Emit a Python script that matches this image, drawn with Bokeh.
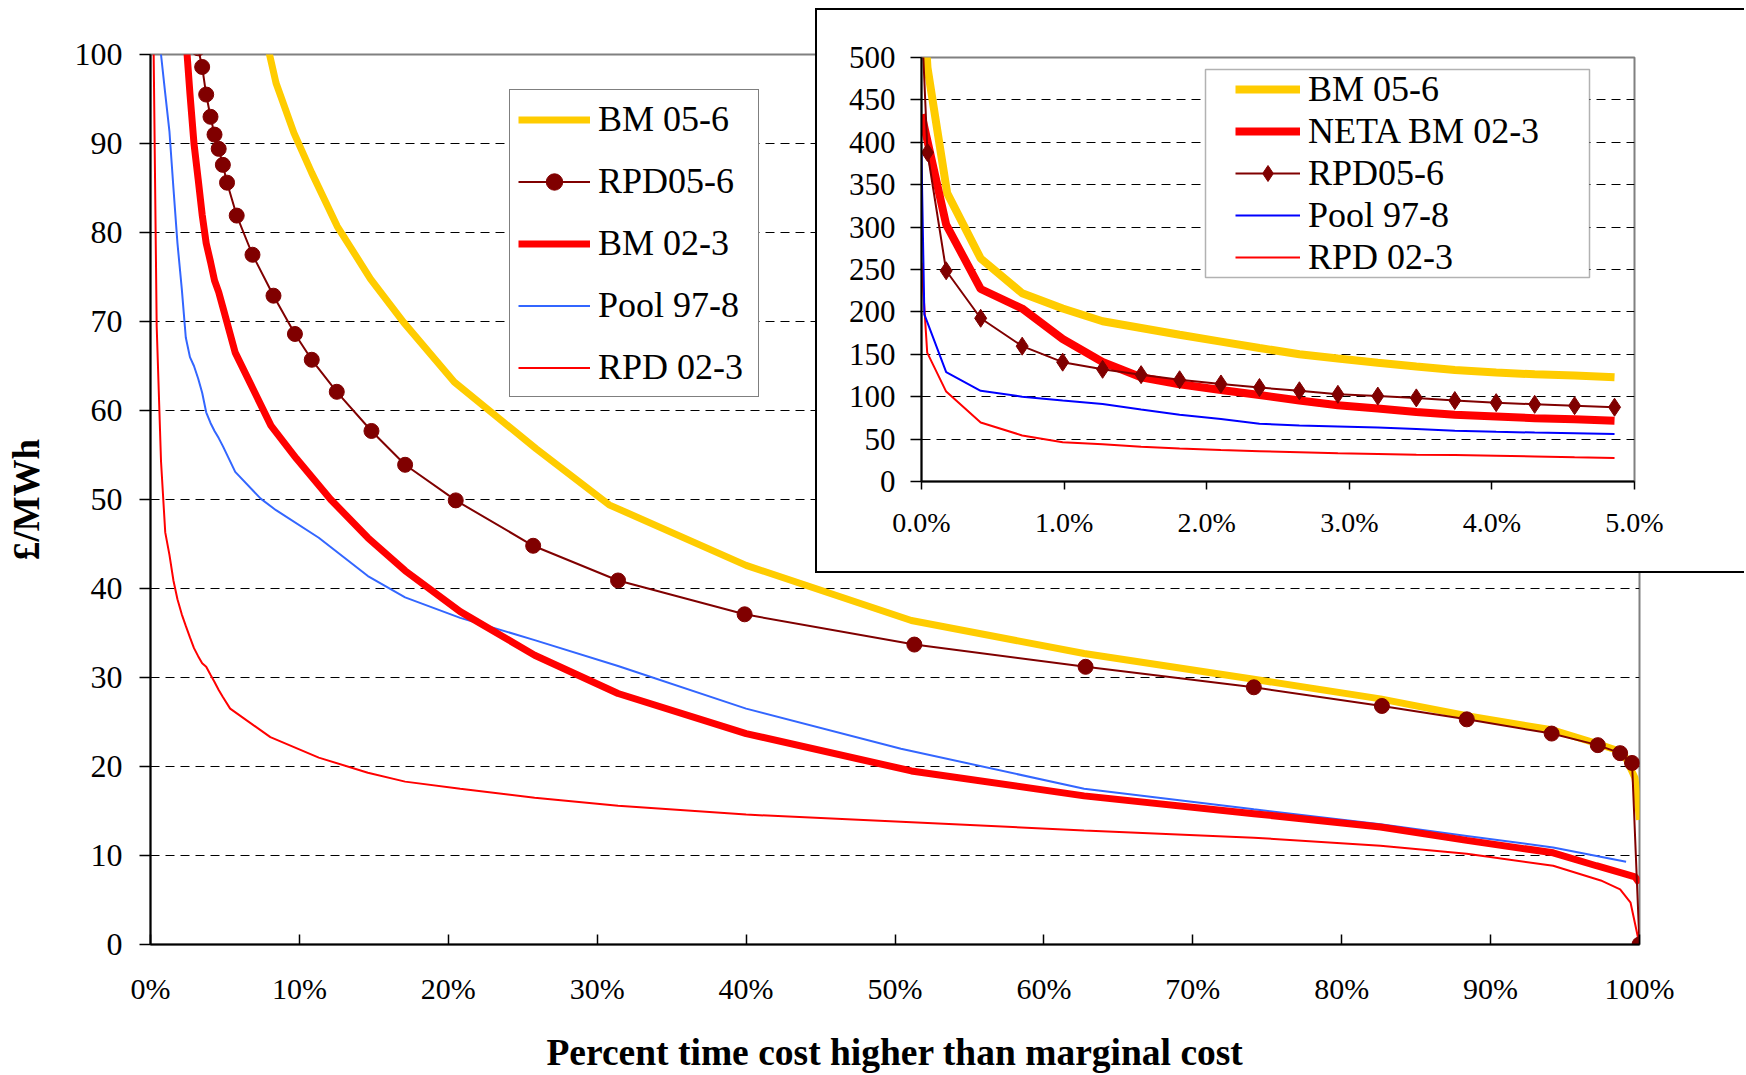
from bokeh.plotting import figure
from bokeh.models import Range1d, FixedTicker, Legend, LegendItem, BoxAnnotation
from bokeh.embed import file_html
from bokeh.resources import INLINE

FONT = "Liberation Serif"

# ---------------- data: percent of time (x) vs £/MWh (y) ----------------
bm56_x = [0.0, 0.042, 0.18, 0.415, 0.706, 0.99, 1.27, 1.54, 1.81, 2.1, 2.37, 2.65, 2.92, 3.2, 3.47,
          3.74, 4.03, 4.30, 4.58, 4.86, 8.43, 9.63, 10.83, 12.54, 14.77, 17.0, 20.4, 25.9, 30.8,
          40.0, 51.1, 62.7, 74.1, 82.6, 88.4, 94.2, 97.1, 98.9, 99.7, 100.0]
bm56_y = [600, 488, 340, 263, 222, 204, 189, 181, 173, 165, 157.5, 150, 145, 140, 135.6,
          131.4, 128.5, 126.4, 125, 123, 96.8, 91.2, 86.7, 80.7, 74.8, 69.9, 63.2, 55.7, 49.4,
          42.6, 36.4, 32.7, 29.8, 27.6, 25.7, 24.1, 22.6, 21.6, 18.7, 14.0]

rpd56_x = [0.0, 0.042, 0.173, 0.415, 0.706, 0.99, 1.27, 1.54, 1.81, 2.10, 2.37, 2.65, 2.92, 3.20,
           3.47, 3.74, 4.03, 4.30, 4.58, 4.86, 5.14, 5.79, 6.85, 8.26, 9.70, 10.83, 12.51, 14.84,
           17.1, 20.5, 25.7, 31.4, 39.9, 51.3, 62.8, 74.1, 82.7, 88.4, 94.1, 97.2, 98.7, 99.5, 100.0]
rpd56_y = [550, 388, 248.5, 192.5, 159.6, 140.7, 132.3, 126, 120, 115, 110.8, 107, 102.8, 100.7,
           98.6, 95.5, 93.0, 91.0, 89.4, 87.6, 85.6, 81.9, 77.5, 72.9, 68.6, 65.7, 62.1, 57.7,
           53.9, 49.9, 44.8, 40.9, 37.1, 33.7, 31.2, 28.9, 26.8, 25.3, 23.7, 22.4, 21.5, 20.4, 0.0]

bm23_x = [0.0, 0.173, 0.415, 0.706, 0.99, 1.27, 1.54, 1.81, 2.10, 2.37, 2.65, 2.92, 3.20, 3.47,
          3.74, 4.03, 4.30, 4.58, 4.86, 5.69, 8.09, 9.8, 12.1, 14.6, 17.1, 20.8, 25.8, 31.4,
          40.0, 51.1, 62.7, 74.1, 82.6, 88.4, 94.2, 97.1, 98.9, 99.7, 100.0]
bm23_y = [433, 303, 227, 204, 168, 141, 123, 114.6, 108, 102, 95.6, 90, 86, 82,
          78.8, 76.7, 74.6, 73.3, 71.6, 66.5, 58.3, 54.6, 50.0, 45.7, 42.0, 37.4, 32.5, 28.2,
          23.7, 19.5, 16.7, 14.7, 13.2, 11.7, 10.3, 8.85, 8.0, 7.6, 6.9]

pool_x = [0.0, 0.02, 0.173, 0.415, 0.706, 0.99, 1.27, 1.54, 1.81, 2.10, 2.37, 2.65, 2.92, 3.20,
          3.47, 3.74, 4.03, 4.30, 4.58, 4.86, 5.69, 7.4, 8.43, 11.3, 14.6, 17.1, 20.8, 25.8,
          31.4, 40.0, 50.4, 62.7, 74.1, 82.6, 88.4, 94.2, 99.1]
pool_y = [385, 197, 129, 107, 100, 95.6, 91.4, 85, 78.8, 73.7, 68.2, 66, 65, 63.6,
          62, 59.8, 58.6, 57.7, 56.9, 56, 53.1, 50.1, 48.8, 45.7, 41.4, 39.0, 36.7, 34.2,
          31.3, 26.5, 22.0, 17.5, 15.2, 13.5, 12.2, 10.9, 9.3]

rpd23_x = [0.0, 0.04, 0.173, 0.415, 0.706, 0.99, 1.27, 1.54, 1.81, 2.10, 2.37, 2.65, 2.92, 3.20,
           3.47, 3.74, 4.03, 4.30, 4.58, 4.86, 5.35, 8.05, 11.3, 14.6, 17.1, 20.8, 25.8, 31.4,
           40.0, 50.4, 62.7, 74.1, 82.6, 88.4, 94.2, 97.4, 98.7, 99.4, 100.0]
rpd23_y = [258, 152, 106, 69.5, 54.3, 46.3, 43.8, 40.9, 38.8, 37.1, 35.8, 34.5, 33.3, 32.4,
           31.6, 31.2, 30.3, 29.5, 28.6, 27.8, 26.5, 23.3, 21.0, 19.3, 18.3, 17.5, 16.5, 15.6,
           14.6, 13.8, 12.8, 12.0, 11.1, 10.2, 8.85, 7.2, 6.2, 4.7, 0.0]

main_labels = ["BM 05-6", "RPD05-6", "BM 02-3", "Pool 97-8", "RPD 02-3"]
inset_labels = ["BM 05-6", "NETA BM 02-3", "RPD05-6", "Pool 97-8", "RPD 02-3"]

x_ticks = [0, 10, 20, 30, 40, 50, 60, 70, 80, 90, 100]
x_tick_labels = ["0%", "10%", "20%", "30%", "40%", "50%", "60%", "70%", "80%", "90%", "100%"]
y_ticks = [0, 10, 20, 30, 40, 50, 60, 70, 80, 90, 100]
inset_x_ticks = [0, 1, 2, 3, 4, 5]
inset_x_tick_labels = ["0.0%", "1.0%", "2.0%", "3.0%", "4.0%", "5.0%"]
inset_y_ticks = [0, 50, 100, 150, 200, 250, 300, 350, 400, 450, 500]

x_title = "Percent time cost higher than marginal cost"
y_title = "£/MWh"

GOLD = "#FFCC00"
DARKRED = "#800000"
RED = "#FF0000"
BLUE_MAIN = "#3366FF"
BLUE_INSET = "#0000FF"


def subset(xs, ys, xmax):
    px, py = [], []
    for a, b in zip(xs, ys):
        if a <= xmax:
            px.append(a)
            py.append(b)
    return px, py


# ---------------- main chart ----------------
p = figure(width=1746, height=1075,
           x_range=Range1d(0, 100), y_range=Range1d(0, 100),
           output_backend="svg", toolbar_location=None,
           min_border_left=150, min_border_right=107, min_border_top=54, min_border_bottom=130,
           background_fill_color="white", border_fill_color="white")
p.outline_line_color = "#808080"
p.outline_line_width = 2

p.xgrid.visible = False
p.ygrid.ticker = FixedTicker(ticks=y_ticks[1:-1])
p.ygrid.grid_line_color = "#000000"
p.ygrid.grid_line_width = 1.2
p.ygrid.grid_line_dash = "9 6"

xa = p.xaxis[0]
xa.ticker = FixedTicker(ticks=x_ticks)
xa.major_label_overrides = {t: l for t, l in zip(x_ticks, x_tick_labels)}
xa.major_tick_in = 10
xa.major_tick_out = 0
xa.minor_tick_line_color = None
xa.axis_line_width = 2
xa.major_tick_line_width = 1.5
xa.major_label_standoff = 27
xa.major_label_text_font = FONT
xa.major_label_text_font_size = "30px"
xa.major_label_text_color = "black"
xa.axis_label = x_title
xa.axis_label_text_font = FONT
xa.axis_label_text_font_style = "bold"
xa.axis_label_text_font_size = "37.5px"
xa.axis_label_text_color = "black"
xa.axis_label_standoff = 24

ya = p.yaxis[0]
ya.ticker = FixedTicker(ticks=y_ticks)
ya.major_tick_in = 0
ya.major_tick_out = 11
ya.minor_tick_line_color = None
ya.axis_line_width = 2
ya.major_tick_line_width = 1.5
ya.major_label_standoff = 17
ya.major_label_text_font = FONT
ya.major_label_text_font_size = "32px"
ya.major_label_text_color = "black"
ya.axis_label = y_title
ya.axis_label_text_font = FONT
ya.axis_label_text_font_style = "bold"
ya.axis_label_text_font_size = "37px"
ya.axis_label_text_color = "black"
ya.axis_label_standoff = 25

r_bm56 = p.line(bm56_x, bm56_y, line_color=GOLD, line_width=7)
r_rpd23 = p.line(rpd23_x, rpd23_y, line_color=RED, line_width=2)
r_pool = p.line(pool_x, pool_y, line_color=BLUE_MAIN, line_width=2)
r_bm23 = p.line(bm23_x, bm23_y, line_color=RED, line_width=7)
r_rpd56 = p.line(rpd56_x, rpd56_y, line_color=DARKRED, line_width=2)
r_rpd56m = p.scatter(rpd56_x, rpd56_y, marker="circle", size=15, fill_color=DARKRED, line_color=DARKRED)

main_legend = Legend(items=[
    LegendItem(label=main_labels[0], renderers=[r_bm56]),
    LegendItem(label=main_labels[1], renderers=[r_rpd56, r_rpd56m]),
    LegendItem(label=main_labels[2], renderers=[r_bm23]),
    LegendItem(label=main_labels[3], renderers=[r_pool]),
    LegendItem(label=main_labels[4], renderers=[r_rpd23]),
], location=(359, 547), padding=8, spacing=20, label_height=41, glyph_height=41, glyph_width=72,
    label_standoff=8, label_width=152, margin=0,
    label_text_font=FONT, label_text_font_size="36px", label_text_color="black",
    border_line_color="black", border_line_width=1.5, background_fill_color="white", background_fill_alpha=1)
p.add_layout(main_legend)

# ---------------- inset chart ----------------
q = figure(frame_width=713, frame_height=424,
           x_range=Range1d(0, 5), y_range=Range1d(0, 500),
           output_backend="svg", toolbar_location=None,
           min_border_left=104, min_border_right=110, min_border_top=47, min_border_bottom=90,
           background_fill_color="white", border_fill_color="white")
q.styles = {"position": "absolute", "left": "815px", "top": "8px",
            "border-top": "2px solid black", "border-left": "2px solid black",
            "border-bottom": "2px solid black", "background-color": "white"}
q.outline_line_color = "#808080"
q.outline_line_width = 2

q.xgrid.visible = False
q.ygrid.ticker = FixedTicker(ticks=inset_y_ticks[1:-1])
q.ygrid.grid_line_color = "#000000"
q.ygrid.grid_line_width = 1.2
q.ygrid.grid_line_dash = "9 6"

qx = q.xaxis[0]
qx.ticker = FixedTicker(ticks=inset_x_ticks)
qx.major_label_overrides = {t: l for t, l in zip(inset_x_ticks, inset_x_tick_labels)}
qx.major_tick_in = 0
qx.major_tick_out = 8
qx.minor_tick_line_color = None
qx.axis_line_width = 2
qx.major_tick_line_width = 1.5
qx.major_label_standoff = 17
qx.major_label_text_font = FONT
qx.major_label_text_font_size = "28px"
qx.major_label_text_color = "black"

qy = q.yaxis[0]
qy.ticker = FixedTicker(ticks=inset_y_ticks)
qy.major_tick_in = 0
qy.major_tick_out = 11
qy.minor_tick_line_color = None
qy.axis_line_width = 2
qy.major_tick_line_width = 1.5
qy.major_label_standoff = 15
qy.major_label_text_font = FONT
qy.major_label_text_font_size = "31px"
qy.major_label_text_color = "black"

ix, iy = subset(bm56_x, bm56_y, 5)
s_bm56 = q.line(ix, iy, line_color=GOLD, line_width=8)
ix, iy = subset(rpd23_x, rpd23_y, 5)
s_rpd23 = q.line(ix, iy, line_color=RED, line_width=2)
ix, iy = subset(pool_x, pool_y, 5)
s_pool = q.line(ix, iy, line_color=BLUE_INSET, line_width=2)
ix, iy = subset(bm23_x, bm23_y, 5)
s_bm23 = q.line(ix, iy, line_color=RED, line_width=8)
ix, iy = subset(rpd56_x, rpd56_y, 5)
s_rpd56 = q.line(ix, iy, line_color=DARKRED, line_width=2)
s_rpd56m = q.scatter(ix, iy, marker="diamond", size=18, fill_color=DARKRED, line_color=DARKRED)

q.add_layout(BoxAnnotation(left=386, right=770, top=57, bottom=265,
                           left_units="canvas", right_units="canvas",
                           top_units="canvas", bottom_units="canvas",
                           fill_color="white", fill_alpha=1, line_color="black", line_width=1.5))

inset_legend = Legend(items=[
    LegendItem(label=inset_labels[0], renderers=[s_bm56]),
    LegendItem(label=inset_labels[1], renderers=[s_bm23]),
    LegendItem(label=inset_labels[2], renderers=[s_rpd56, s_rpd56m]),
    LegendItem(label=inset_labels[3], renderers=[s_pool]),
    LegendItem(label=inset_labels[4], renderers=[s_rpd23]),
], location=(314, 203), padding=4, spacing=0, label_height=40, glyph_height=40, glyph_width=65,
    label_standoff=8, margin=0,
    label_text_font=FONT, label_text_font_size="36px", label_text_line_height=1.1,
    label_text_color="black",
    border_line_color=None, background_fill_alpha=0)
q.add_layout(inset_legend)

roots = [p, q]
open("out.html", "w").write(file_html(roots, INLINE))
